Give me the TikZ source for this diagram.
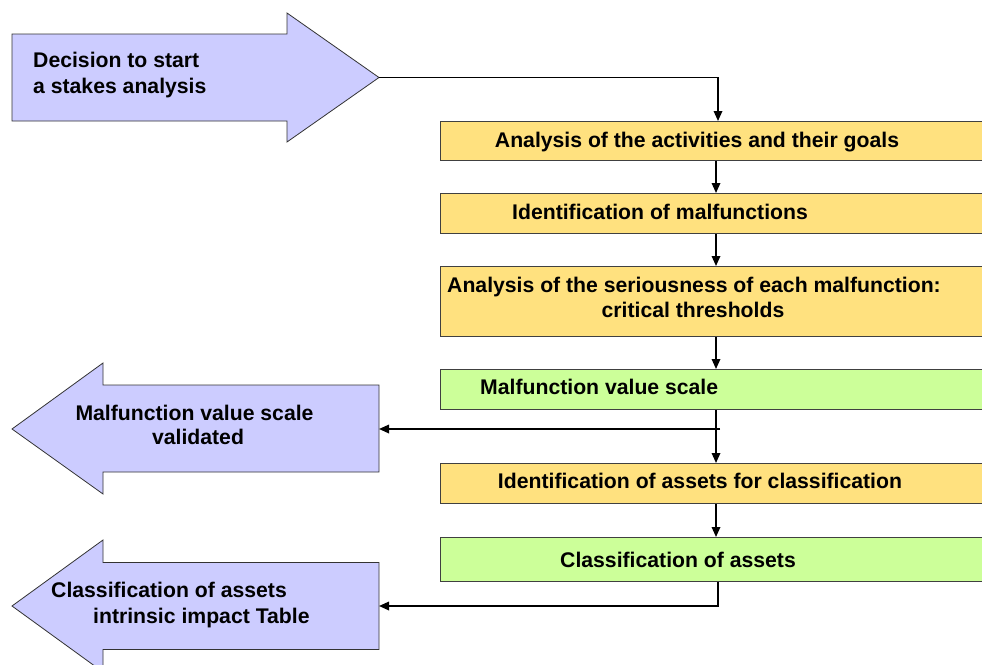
\documentclass[tikz,border=0pt]{standalone}
\usepackage{fontspec}
\setmainfont{Liberation Sans}
\usetikzlibrary{arrows.meta}
\definecolor{lav}{HTML}{CCCCFF}
\definecolor{yel}{HTML}{FFE17F}
\definecolor{grn}{HTML}{CCFF99}
\begin{document}
\begin{tikzpicture}[x=1pt,y=-1pt,
  txt/.style={inner sep=0pt, font=\fontsize{21.2}{25}\selectfont\bfseries},
  stepbox/.style={rectangle, draw=black!75, line width=1.1pt, inner sep=0pt, anchor=north west, minimum width=560pt},
  bigarrow/.style={draw=black!80, line width=0.8pt, fill=lav, line join=miter},
  conn/.style={line width=1.7pt, -{Triangle[length=10pt,width=8.5pt]}},
]
\clip (0,0) rectangle (982,664);
% big arrows
\draw[bigarrow] (12,34) -- (287,34) -- (287,13) -- (379,77.5) -- (287,142) -- (287,121) -- (12,121) -- cycle;
\coordinate (a0tip) at (379,77.5);
\draw[bigarrow] (12,429) -- (103,363) -- (103,385) -- (379,385) -- (379,472) -- (103,472) -- (103,494) -- cycle;
\coordinate (a1end) at (379,429);
\draw[bigarrow] (12,606) -- (103,540) -- (103,562.5) -- (379,562.5) -- (379,649.5) -- (103,649.5) -- (103,672) -- cycle;
\coordinate (a2end) at (379,606);
% boxes
\node[stepbox, fill=yel, minimum height=39pt] (b1) at (440,121) {};
\node[stepbox, fill=yel, minimum height=40pt] (b2) at (440,193) {};
\node[stepbox, fill=yel, minimum height=70pt] (b3) at (440,266) {};
\node[stepbox, fill=grn, minimum height=40pt] (b4) at (440,369) {};
\node[stepbox, fill=yel, minimum height=40pt] (b5) at (440,463) {};
\node[stepbox, fill=grn, minimum height=44pt] (b6) at (440,537) {};
% connectors
\coordinate (spA) at (718,0);
\coordinate (spB) at (716,0);
\coordinate (j1) at (720,429);
\draw[conn] (a0tip) -| (b1.north -| spA);
\draw[conn] (b1.south -| spB) -- (b2.north -| spB);
\draw[conn] (b2.south -| spB) -- (b3.north -| spB);
\draw[conn] (b3.south -| spB) -- (b4.north -| spB);
\draw[conn] (b4.south -| spB) -- (b5.north -| spB);
\draw[conn] (b5.south -| spB) -- (b6.north -| spB);
\draw[conn] (j1) -- (a1end);
\draw[conn] (b6.south -| spA) |- (a2end);
% texts
\node[txt, anchor=base west] (t0a) at (33,67) {Decision to start};
\node[txt, anchor=base west] (t0b) at (33,93) {a stakes analysis};
\node[txt, anchor=base] (t1) at (697,147) {Analysis of the activities and their goals};
\node[txt, anchor=base west] (t2) at (512,219) {Identification of malfunctions};
\node[txt, anchor=base] (t3a) at (694,292) {Analysis of the seriousness of each malfunction:};
\node[txt, anchor=base] (t3b) at (693,317) {critical thresholds};
\node[txt, anchor=base west] (t4) at (480,394) {Malfunction value scale};
\node[txt, anchor=base] (t5) at (700,488) {Identification of assets for classification};
\node[txt, anchor=base west] (t6) at (560,567) {Classification of assets};
\node[txt, anchor=base] (l1a) at (194.5,420) {Malfunction value scale};
\node[txt, anchor=base] (l1b) at (198,444) {validated};
\node[txt, anchor=base west] (l2a) at (51,597) {Classification of assets};
\node[txt, anchor=base west] (l2b) at (93,623) {intrinsic impact Table};
\end{tikzpicture}
\end{document}
